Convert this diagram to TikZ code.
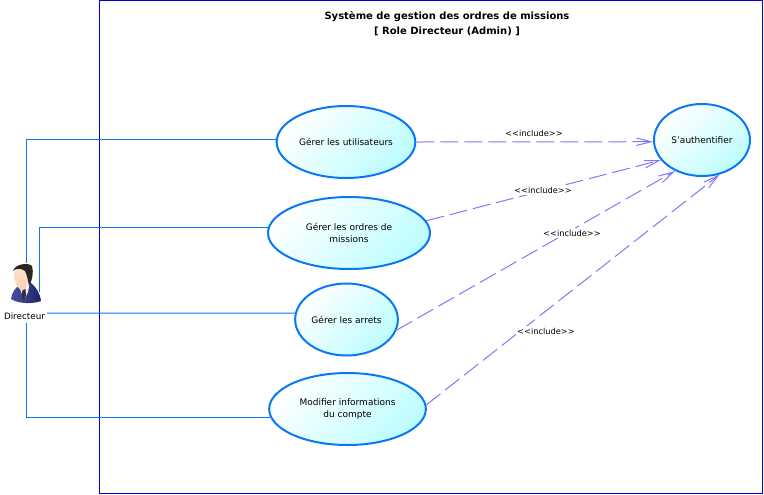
\documentclass[tikz,border=0pt]{standalone}
\usepackage{fontspec}
\setmainfont{DejaVu Sans}
\usepackage{xcolor}
\usetikzlibrary{arrows.meta, shapes.geometric}
\definecolor{sysblue}{HTML}{0000DC}
\definecolor{caseblue}{HTML}{0A78F5}
\definecolor{inclviolet}{HTML}{8078F5}
\definecolor{casecyan}{HTML}{BDFDFF}
\definecolor{suitdark}{HTML}{1E2468}
\definecolor{suitlight}{HTML}{4A4FA0}
\definecolor{skin}{HTML}{FBD9BE}
\tikzset{
usecase/.style={ellipse, draw=caseblue, line width=1.5pt, top color=white, bottom color=casecyan, shading angle=45, inner sep=0pt, minimum height=54pt, align=center, font=\fontsize{6.75}{9.6}\selectfont}, % the use case bubbles
assoc/.style={draw=caseblue, line width=0.75pt}, % actor to use case
incl/.style={draw=inclviolet, line width=0.75pt, dash pattern=on 13.5pt off 4.5pt, -{Straight Barb[length=11pt,width=5.6pt]}}, % dashed include arrows
incllabel/.style={fill=white, font=\fontsize{6.2}{8}\selectfont, inner sep=1pt},
}

\begin{document}
\begin{tikzpicture}[x=0.75pt,y=-0.75pt]
        \useasboundingbox (0,0) rectangle (764,494);
        \node[draw=sysblue, line width=0.75pt, minimum width=497.6pt, minimum height=369.4pt, inner sep=0pt] (systeme) at (431.25,247) {};
        \node[font=\fontsize{7.5}{11.4}\selectfont\bfseries, align=center] (titre) at (447,23.5) {Système de gestion des ordres de missions\\{[} Role Directeur (Admin) {]}};

        \node[usecase, minimum width=104pt] (utilisateurs) at (346,142) {Gérer les utilisateurs};
        \node[usecase, minimum width=121.5pt] (ordres) at (349,233) {Gérer les ordres de\\missions};
        \node[usecase, minimum width=77pt] (arrets) at (346.5,319.5) {Gérer les arrets};
        \node[usecase, minimum width=117.5pt] (compte) at (347.5,409) {Modifier informations\\du compte};
        \node[usecase, minimum width=72pt] (auth) at (702,140) {S'authentifier};

        \coordinate (d1) at (26,263);
        \coordinate (d2) at (39.5,292);
        \coordinate (d3) at (47,313);
        \coordinate (d4) at (26,323);
        \node[font=\fontsize{6.6}{8}\selectfont, inner sep=0pt] (directeur) at (24.5,316.5) {Directeur};

        \draw[assoc] (utilisateurs.178) -| (d1);
        \draw[assoc] (ordres.176.5) -| (d2);
        \draw[assoc] (arrets.173) -- (d3);
        \draw[assoc] (compte.186.6) -| (d4);

        \draw[incl] (utilisateurs.east) -- (auth.182);
        \draw[incl] (ordres.9.7) -- (auth.206.6);
        \draw[incl] (arrets.348.5) -- (auth.229);
        \draw[incl] (compte.3) -- (auth.297);

        \node[incllabel] (inc1) at (534,133) {<{}<include>{}>};
        \node[incllabel] (inc2) at (543,190) {<{}<include>{}>};
        \node[incllabel] (inc3) at (572,233) {<{}<include>{}>};
        \node[incllabel] (inc4) at (546,331) {<{}<include>{}>};

        % the actor picture
        \fill[white] (9,263) rectangle (38.5,305);
        \shade[left color=suitlight, right color=suitdark] (11,299) .. controls (12,292) and (15,288) .. (20,285) -- (31,283) .. controls (36,287) and (40,293) .. (41,301) .. controls (34,304) and (18,304) .. (11,299) -- cycle;
        \fill[white!92!gray] (19,286) -- (30,282) -- (28,292) -- (24,300) -- cycle;
        \fill[black!80] (22.5,290) -- (25.5,289) -- (26,295) -- (24,301) -- (21.5,296) -- cycle;
        \shade[top color=skin!70!white, bottom color=skin!90!orange] (14,274) .. controls (14,266) and (27,264) .. (28,272) .. controls (29,282) and (26,291) .. (21,290) .. controls (17,288) and (14,281) .. (14,274) -- cycle;
        \fill[black!85] (13,271) .. controls (15,264) and (28,262) .. (32,266) .. controls (34,273) and (32,281) .. (29,286) .. controls (28,280) and (27,275) .. (25,271) .. controls (21,268) and (16,268) .. (13,271) -- cycle;
\end{tikzpicture}
\end{document}
